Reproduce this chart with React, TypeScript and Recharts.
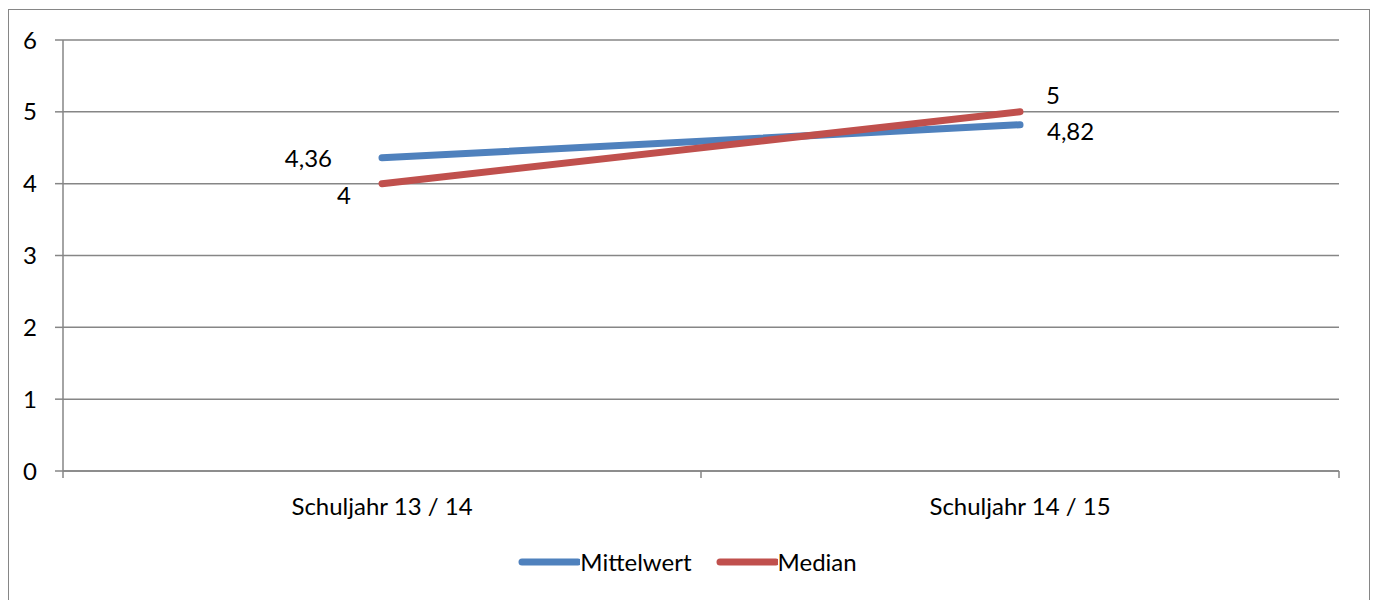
import React from "react";
import {
  CartesianGrid,
  LabelList,
  Legend,
  Line,
  LineChart,
  XAxis,
  YAxis,
} from "recharts";

const categories = ["Schuljahr 13 / 14", "Schuljahr 14 / 15"];
const mittelwert = [4.36, 4.82];
const median = [4, 5];
const yTicks = [0, 1, 2, 3, 4, 5, 6];

const data = categories.map((name, i) => ({
  name,
  Mittelwert: mittelwert[i],
  Median: median[i],
}));

const FONT = "Lato, 'Open Sans', sans-serif";
const FS = 24;
const GRID = "#868686";
const BLUE = "#4F81BD";
const RED = "#C0504D";
const X_TICK_SIZE = 7;
const X_TICK_MARGIN = 20;

const fmt = (v: number) => String(v).replace(".", ",");

// label placement per series / point, like the Excel original
const labelPos: Record<string, Array<{ dx: number; dy: number; anchor: string }>> = {
  Mittelwert: [
    { dx: -50, dy: 0, anchor: "end" },
    { dx: 27, dy: 6, anchor: "start" },
  ],
  Median: [
    { dx: -31, dy: 11, anchor: "end" },
    { dx: 26, dy: -17, anchor: "start" },
  ],
};

function makeLabel(series: string) {
  return (props: any) => {
    const { x, y, value, index } = props;
    const p = labelPos[series][index];
    return (
      <text
        x={x + p.dx}
        y={y + p.dy}
        textAnchor={p.anchor}
        dominantBaseline="central"
        fontFamily={FONT}
        fontSize={FS}
        fill="#000"
      >
        {fmt(value)}
      </text>
    );
  };
}

function CategoryTick(props: any) {
  const { x, y, payload, index, visibleTicksCount } = props;
  const half = payload.offset ?? 319;
  const axisY = y - X_TICK_SIZE - X_TICK_MARGIN;
  return (
    <g>
      <line x1={x - half} x2={x - half} y1={axisY} y2={axisY + X_TICK_SIZE} stroke={GRID} strokeWidth={1.5} />
      {index === visibleTicksCount - 1 && (
        <line x1={x + half} x2={x + half} y1={axisY} y2={axisY + X_TICK_SIZE} stroke={GRID} strokeWidth={1.5} />
      )}
      <text x={x} y={y} dy="0.71em" textAnchor="middle" fontFamily={FONT} fontSize={FS} fill="#000">
        {payload.value}
      </text>
    </g>
  );
}

function LegendContent() {
  const items = [
    { name: "Mittelwert", color: BLUE },
    { name: "Median", color: RED },
  ];
  return (
    <div style={{ display: "flex", justifyContent: "center", gap: 24, fontFamily: FONT, fontSize: FS }}>
      {items.map((it) => (
        <div key={it.name} style={{ display: "flex", alignItems: "center" }}>
          <svg width={62} height={12}>
            <line x1={4} x2={60} y1={6} y2={6} stroke={it.color} strokeWidth={7} strokeLinecap="round" />
          </svg>
          <span style={{ color: "#000" }}>{it.name}</span>
        </div>
      ))}
    </div>
  );
}

export default function App() {
  return (
    <div style={{ position: "absolute", left: 0, top: 0, width: 1375, height: 600, overflow: "hidden", background: "#fff" }}>
      <div
        style={{
          position: "absolute",
          left: 8,
          top: 9,
          width: 1360,
          height: 640,
          border: `1.5px solid ${GRID}`,
        }}
      />
      <LineChart
        width={1375}
        height={600}
        data={data}
        margin={{ top: 40, right: 36, left: 8, bottom: 39 }}
        style={{ position: "absolute", left: 0, top: 0 }}
      >
        <CartesianGrid vertical={false} stroke={GRID} strokeWidth={1.5} />
        <XAxis
          dataKey="name"
          scale="band"
          height={50}
          axisLine={{ stroke: GRID, strokeWidth: 1.5 }}
          tickLine={false}
          tickSize={X_TICK_SIZE}
          tickMargin={X_TICK_MARGIN}
          tick={<CategoryTick />}
          interval={0}
        />
        <YAxis
          domain={[0, 6]}
          ticks={yTicks}
          width={55}
          axisLine={{ stroke: GRID, strokeWidth: 1.5 }}
          tickLine={{ stroke: GRID, strokeWidth: 1.5 }}
          tickSize={8}
          tickMargin={18}
          tick={{ fontFamily: FONT, fontSize: FS, fill: "#000" }}
        />
        <Legend
          verticalAlign="bottom"
          height={40}
          content={<LegendContent />}
          wrapperStyle={{ left: 0, width: 1375, top: 547 }}
        />
        <Line
          dataKey="Mittelwert"
          stroke={BLUE}
          strokeWidth={7}
          strokeLinecap="round"
          dot={false}
          activeDot={false}
          isAnimationActive={false}
        >
          <LabelList dataKey="Mittelwert" content={makeLabel("Mittelwert")} />
        </Line>
        <Line
          dataKey="Median"
          stroke={RED}
          strokeWidth={7}
          strokeLinecap="round"
          dot={false}
          activeDot={false}
          isAnimationActive={false}
        >
          <LabelList dataKey="Median" content={makeLabel("Median")} />
        </Line>
      </LineChart>
    </div>
  );
}
